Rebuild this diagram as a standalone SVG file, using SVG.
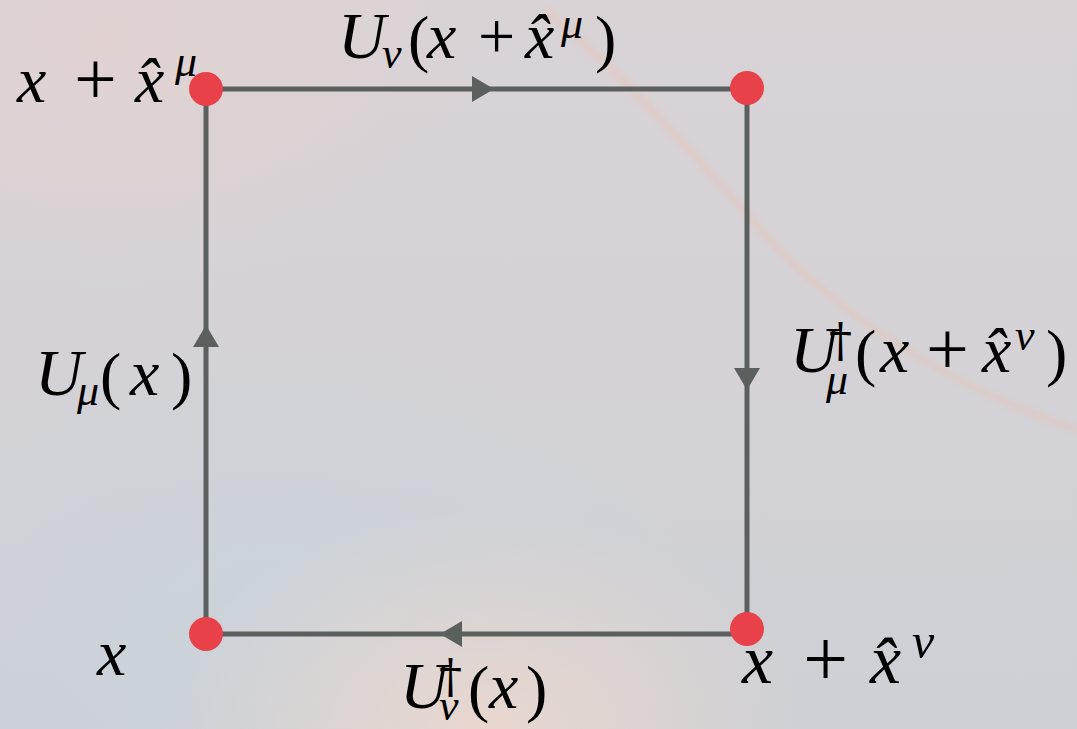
<svg xmlns="http://www.w3.org/2000/svg" width="1077" height="729" viewBox="0 0 1077 729">
<defs>
<linearGradient id="bg" x1="0" y1="0" x2="0" y2="1">
<stop offset="0" stop-color="#d9d3d6"/>
<stop offset="0.5" stop-color="#d4d2d6"/>
<stop offset="1" stop-color="#cdd0d5"/>
</linearGradient>
<radialGradient id="warm1" cx="0.45" cy="1" r="0.3">
<stop offset="0" stop-color="#eed8cd" stop-opacity="0.85"/>
<stop offset="1" stop-color="#eed8cd" stop-opacity="0"/>
</radialGradient>
<radialGradient id="blue1" cx="0.25" cy="0.85" r="0.4">
<stop offset="0" stop-color="#c8d4dc" stop-opacity="0.7"/>
<stop offset="1" stop-color="#c8d4dc" stop-opacity="0"/>
</radialGradient>
<radialGradient id="pink1" cx="0.1" cy="0.05" r="0.35">
<stop offset="0" stop-color="#e4d2d1" stop-opacity="0.8"/>
<stop offset="1" stop-color="#e4d2d1" stop-opacity="0"/>
</radialGradient>
<filter id="blur" x="-10%" y="-10%" width="120%" height="120%"><feGaussianBlur stdDeviation="3"/></filter>
<marker id="arr" markerUnits="userSpaceOnUse" viewBox="0 0 22 26" markerWidth="22" markerHeight="26" refX="22" refY="13" orient="auto">
<path d="M0,0 L22,13 L0,26 Z" fill="#5b605f"/>
</marker>
</defs>
<style>
.edge{fill:none;stroke:#5b605f;stroke-width:5;marker-mid:url(#arr)}
.dot{fill:#e8414a}
.v{font-family:"Liberation Serif",serif;font-style:italic;font-size:66px;fill:#000}
.r{font-family:"Liberation Serif",serif;font-style:normal;fill:#000}
.s{font-family:"Liberation Serif",serif;font-style:italic;font-size:44px;fill:#000}
.pl{font-size:76px}
.pa{font-size:64px}
.dg{font-family:"DejaVu Serif",serif;font-style:normal;font-size:46px;fill:#000}
</style>
<rect width="1077" height="729" fill="url(#bg)"/>
<rect width="1077" height="729" fill="url(#pink1)"/>
<rect width="1077" height="729" fill="url(#blue1)"/>
<rect width="1077" height="729" fill="url(#warm1)"/>
<path d="M545,10 C620,70 690,150 770,240 C850,325 960,390 1077,430" fill="none" stroke="#efbba6" stroke-width="5" opacity="0.45" filter="url(#blur)"/>

<g id="connectors">
<path class="edge" d="M206,634 L206,325 L206,89"/>
<path class="edge" d="M206,89 L494,89 L747,89"/>
<path class="edge" d="M747,88 L747,390 L747,629"/>
<path class="edge" d="M747,634 L440,634 L206,634"/>
</g>

<g id="node-top-left">
<circle class="dot" cx="206" cy="89" r="17"/>
<text><tspan class="v" x="17" y="102">x</tspan><tspan class="r pl" x="74" y="104">+</tspan><tspan class="v" x="135" y="102">x̂</tspan><tspan class="s" x="175" y="76">μ</tspan></text>
</g>
<g id="node-top-right">
<circle class="dot" cx="747" cy="88" r="17"/>
</g>
<g id="node-bottom-left">
<circle class="dot" cx="206" cy="634" r="17"/>
<text><tspan class="v" x="97" y="675">x</tspan></text>
</g>
<g id="node-bottom-right">
<circle class="dot" cx="747" cy="629" r="17"/>
<text><tspan class="v" x="742" y="683" style="font-size:70px">x</tspan><tspan class="r pl" x="803" y="686" style="font-size:80px">+</tspan><tspan class="v" x="870" y="683" style="font-size:70px">x̂</tspan><tspan class="s" x="912" y="658" style="font-size:50px">ν</tspan></text>
</g>

<g id="label-top">
<text><tspan class="v" x="338" y="58">U</tspan><tspan class="s" x="382" y="68">ν</tspan><tspan class="r pa" x="408" y="60">(</tspan><tspan class="v" x="427" y="58">x</tspan><tspan class="r" x="478" y="58" style="font-size:66px">+</tspan><tspan class="v" x="525" y="58">x̂</tspan><tspan class="s" x="561" y="38">μ</tspan><tspan class="r pa" x="595" y="60">)</tspan></text>
</g>
<g id="label-left">
<text><tspan class="v" x="35" y="395">U</tspan><tspan class="s" x="77" y="405">μ</tspan><tspan class="r pa" x="100" y="397">(</tspan><tspan class="v" x="130" y="395">x</tspan><tspan class="r pa" x="171" y="397">)</tspan></text>
</g>
<g id="label-right">
<text><tspan class="v" x="790" y="372">U</tspan><tspan class="dg" x="829" y="356">†</tspan><tspan class="s" x="826" y="394">μ</tspan><tspan class="r pa" x="855" y="374">(</tspan><tspan class="v" x="880" y="372">x</tspan><tspan class="r pl" x="926" y="374">+</tspan><tspan class="v" x="982" y="372">x̂</tspan><tspan class="s" x="1015" y="350">ν</tspan><tspan class="r pa" x="1046" y="374">)</tspan></text>
</g>
<g id="label-bottom">
<text><tspan class="v" x="400" y="708">U</tspan><tspan class="dg" x="439" y="692">†</tspan><tspan class="s" x="439" y="720">ν</tspan><tspan class="r pa" x="468" y="710">(</tspan><tspan class="v" x="489" y="708">x</tspan><tspan class="r pa" x="526" y="710">)</tspan></text>
</g>
</svg>
